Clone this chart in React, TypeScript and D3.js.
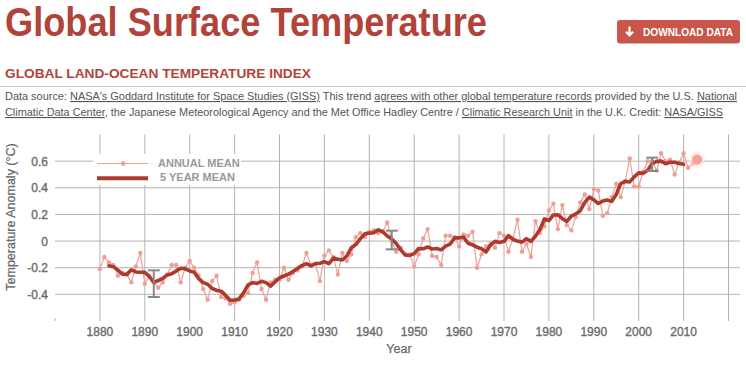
import React from 'react';
import * as d3 from 'd3';

// ---------- data ----------
const START_YEAR = 1880;
const annualMean: number[] = [
  -0.21, -0.12, -0.16, -0.18, -0.26, -0.24, -0.25, -0.31, -0.19, -0.09, // 1880s
  -0.32, -0.26, -0.31, -0.35, -0.31, -0.25, -0.18, -0.18, -0.31, -0.20, // 1890s
  -0.15, -0.20, -0.26, -0.36, -0.44, -0.30, -0.26, -0.42, -0.43, -0.47, // 1900s
  -0.46, -0.44, -0.41, -0.39, -0.24, -0.16, -0.36, -0.44, -0.31, -0.29, // 1910s
  -0.29, -0.20, -0.29, -0.24, -0.22, -0.19, -0.09, -0.18, -0.17, -0.30, // 1920s
  -0.11, -0.07, -0.12, -0.25, -0.09, -0.15, -0.10, 0.03, 0.06, 0.03,    // 1930s
  0.07, 0.08, 0.06, 0.07, 0.14, 0.00, -0.08, -0.05, -0.10, -0.10,       // 1940s
  -0.19, -0.10, 0.02, 0.09, -0.11, -0.12, -0.18, 0.04, 0.04, 0.03,      // 1950s
  -0.04, 0.05, 0.04, 0.07, -0.20, -0.10, -0.04, -0.02, -0.05, 0.06,     // 1960s
  0.04, -0.08, 0.02, 0.16, -0.08, -0.02, -0.12, 0.15, 0.06, 0.11,       // 1970s
  0.23, 0.28, 0.09, 0.27, 0.12, 0.08, 0.18, 0.29, 0.35, 0.24,           // 1980s
  0.39, 0.38, 0.19, 0.21, 0.33, 0.43, 0.33, 0.45, 0.62, 0.41,           // 1990s
  0.41, 0.52, 0.60, 0.60, 0.53, 0.66, 0.60, 0.61, 0.50, 0.59,           // 2000s
  0.66, 0.55, 0.58, 0.61,                                               // 2010s
];

const FIVE_START_YEAR = 1882;
const fiveYearMean: number[] = [
  -0.186, -0.192, -0.218, -0.248, -0.250, -0.216, -0.232, -0.234,
  -0.234, -0.266, -0.310, -0.296, -0.280, -0.254, -0.246, -0.224, -0.204, -0.208,
  -0.224, -0.234, -0.282, -0.312, -0.324, -0.356, -0.370, -0.376, -0.408, -0.444,
  -0.442, -0.434, -0.388, -0.328, -0.312, -0.318, -0.302, -0.312, -0.338, -0.306,
  -0.276, -0.262, -0.248, -0.228, -0.206, -0.184, -0.170, -0.186, -0.170, -0.166,
  -0.154, -0.170, -0.128, -0.136, -0.142, -0.112, -0.050, -0.026, 0.018, 0.054,
  0.060, 0.062, 0.084, 0.070, 0.038, 0.016, -0.018, -0.066, -0.104, -0.108,
  -0.094, -0.056, -0.058, -0.044, -0.060, -0.056, -0.066, -0.038, -0.022, 0.024,
  0.024, 0.030, -0.016, -0.028, -0.046, -0.058, -0.082, -0.030, -0.002, -0.010,
  -0.002, 0.040, 0.012, 0.000, -0.008, 0.018, -0.002, 0.036, 0.086, 0.166,
  0.154, 0.196, 0.198, 0.168, 0.148, 0.188, 0.204, 0.228, 0.290, 0.330,
  0.310, 0.282, 0.300, 0.308, 0.298, 0.350, 0.432, 0.448, 0.444, 0.482,
  0.512, 0.508, 0.532, 0.582, 0.598, 0.600, 0.580, 0.592, 0.592, 0.582,
  0.576,
];

const errorYears = [1892, 1945, 2003];
const errorCenters = [-0.32, 0.008, 0.576];
const errorHalfWidths = [0.1, 0.07, 0.05];

const xTickYears = [1880, 1890, 1900, 1910, 1920, 1930, 1940, 1950, 1960, 1970, 1980, 1990, 2000, 2010];
const xTickLabels = ['1880', '1890', '1900', '1910', '1920', '1930', '1940', '1950', '1960', '1970', '1980', '1990', '2000', '2010'];
const gridYears = [1880, 1890, 1900, 1910, 1920, 1930, 1940, 1950, 1960, 1970, 1980, 1990, 2000, 2010, 2020];
const yTicks = [-0.4, -0.2, 0, 0.2, 0.4, 0.6];
const yTickLabels = ['-0.4', '-0.2', '0', '0.2', '0.4', '0.6'];

const legendLabels = ['ANNUAL MEAN', '5 YEAR MEAN'];

// ---------- colours ----------
const RED = '#b1443a';
const DARK = '#ad3a2f';
const PINK = '#ef9f96';
const GRID = '#b4b4b4';
const TXT = '#6a6a6a';

export default function App() {
  const W = 746;
  const H = 365;
  const x = d3.scaleLinear().domain([1870, 2020]).range([55, 728.5]);
  const y = d3.scaleLinear().domain([-0.6, 0.8]).range([321, 134.5]);

  const annual: [number, number][] = annualMean.map((v, i) => [START_YEAR + i, v]);
  const five: [number, number][] = fiveYearMean.map((v, i) => [FIVE_START_YEAR + i, v]);
  const line = d3.line<[number, number]>().x((d) => x(d[0])).y((d) => y(d[1]));
  const last = annual[annual.length - 1];

  const font = "'Liberation Sans', Arial, Helvetica, sans-serif";
  const u = { textDecoration: 'underline' } as React.CSSProperties;

  return (
    <svg width={W} height={H} style={{ position: 'absolute', left: 0, top: 0, background: '#fff' }} fontFamily={font}>
      {/* header */}
      <text x={5} y={36} fontSize={40} fontWeight="bold" fill={RED} textLength={482} lengthAdjust="spacingAndGlyphs">
        Global Surface Temperature
      </text>
      <g>
        <rect x={617} y={20} width={123} height={23.5} rx={3} fill="#c8564b" />
        <path d="M629.5,26.5 L629.5,35 M626,31.8 L629.5,35.5 L633,31.8" stroke="#fff" strokeWidth={2.2} fill="none" />
        <text x={643} y={35.5} fontSize={10.5} fontWeight="bold" fill="#fff" textLength={90} lengthAdjust="spacingAndGlyphs">
          DOWNLOAD DATA
        </text>
      </g>
      <text x={5} y={78} fontSize={13.5} fontWeight="bold" fill={RED} textLength={306} lengthAdjust="spacingAndGlyphs">
        GLOBAL LAND-OCEAN TEMPERATURE INDEX
      </text>
      <line x1={0} x2={746} y1={86.5} y2={86.5} stroke="#ccc" strokeWidth={1} />
      <text x={5} y={100} fontSize={11} fill="#555" textLength={732} lengthAdjust="spacingAndGlyphs">
        <tspan>Data source: </tspan>
        <tspan style={u}>NASA's Goddard Institute for Space Studies (GISS)</tspan>
        <tspan> This trend </tspan>
        <tspan style={u}>agrees with other global temperature records</tspan>
        <tspan> provided by the U.S. </tspan>
        <tspan style={u}>National</tspan>
      </text>
      <text x={5} y={116} fontSize={11} fill="#555" textLength={718} lengthAdjust="spacingAndGlyphs">
        <tspan style={u}>Climatic Data Center</tspan>
        <tspan>, the Japanese Meteorological Agency and the Met Office Hadley Centre / </tspan>
        <tspan style={u}>Climatic Research Unit</tspan>
        <tspan> in the U.K. Credit: </tspan>
        <tspan style={u}>NASA/GISS</tspan>
      </text>

      {/* grid */}
      <g>
        {gridYears.map((yr) => (
          <line key={'v' + yr} x1={x(yr)} x2={x(yr)} y1={y(0.8)} y2={y(-0.6)} stroke={GRID} strokeWidth={1} />
        ))}
        <line x1={x(1870)} x2={x(1870)} y1={y(-0.6) - 3} y2={y(-0.6)} stroke={GRID} strokeWidth={1} />
        {yTicks.map((t) => (
          <line key={'h' + t} x1={x(1870)} x2={740} y1={y(t)} y2={y(t)} stroke={GRID} strokeWidth={1} />
        ))}
      </g>

      {/* axes labels */}
      {yTicks.map((t, i) => (
        <text key={'yl' + t} x={48} y={y(t) + 4.5} textAnchor="end" fontSize={12} fill={TXT} stroke={TXT} strokeWidth={0.35}>
          {yTickLabels[i]}
        </text>
      ))}
      {xTickYears.map((yr, i) => (
        <text key={'xl' + yr} x={x(yr)} y={336} textAnchor="middle" fontSize={12} fill={TXT} stroke={TXT} strokeWidth={0.35}>
          {xTickLabels[i]}
        </text>
      ))}
      <text x={399} y={352.5} textAnchor="middle" fontSize={12.5} fill={TXT} stroke={TXT} strokeWidth={0.25}>Year</text>
      <text transform="translate(15,217) rotate(-90)" textAnchor="middle" fontSize={12.5} fill={TXT} stroke={TXT} strokeWidth={0.25}>
        Temperature Anomaly (°C)
      </text>

      {/* legend */}
      <rect x={93} y={154} width={148} height={31} fill="#fff" />
      <line x1={97} x2={148} y1={163.5} y2={163.5} stroke={PINK} strokeWidth={1.2} />
      <circle cx={123} cy={163.5} r={2.3} fill={PINK} />
      <text x={158} y={166.5} fontSize={11} fontWeight="bold" fill="#999">{legendLabels[0]}</text>
      <line x1={97} x2={148} y1={178.3} y2={178.3} stroke={DARK} strokeWidth={4} />
      <text x={160} y={181} fontSize={11} fontWeight="bold" fill="#999">{legendLabels[1]}</text>

      {/* annual mean */}
      <path d={line(annual) || ''} fill="none" stroke={PINK} strokeWidth={1.2} />
      {annual.slice(0, -1).map((d) => (
        <circle key={'p' + d[0]} cx={x(d[0])} cy={y(d[1])} r={2.2} fill={PINK} />
      ))}

      {/* 5 year mean */}
      <path d={line(five) || ''} fill="none" stroke={DARK} strokeWidth={3.6} strokeLinejoin="round" strokeLinecap="round" />

      {/* latest point */}
      <circle cx={x(last[0])} cy={y(last[1])} r={8} fill="#fbe1dd" opacity={0.6} />
      <circle cx={x(last[0])} cy={y(last[1])} r={5} fill="#f4a197" />

      {/* uncertainty bars */}
      {errorYears.map((yr, i) => {
        const cx = x(yr);
        const top = y(errorCenters[i] + errorHalfWidths[i]);
        const bot = y(errorCenters[i] - errorHalfWidths[i]);
        return (
          <g key={'e' + yr} stroke="#888" strokeWidth={2} fill="none">
            <line x1={cx} x2={cx} y1={top} y2={bot} />
            <line x1={cx - 6} x2={cx + 6} y1={top} y2={top} />
            <line x1={cx - 6} x2={cx + 6} y1={bot} y2={bot} />
          </g>
        );
      })}
    </svg>
  );
}
